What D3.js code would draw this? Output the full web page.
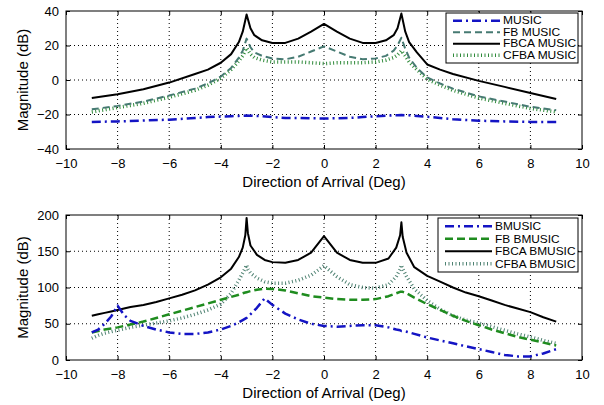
<!DOCTYPE html>
<html><head><meta charset="utf-8">
<script src="https://cdn.jsdelivr.net/npm/d3@7"></script>
<style>
html,body{margin:0;padding:0;background:#fff;}
svg{display:block;font-family:"Liberation Sans",Arial,sans-serif;}
</style></head>
<body><svg id="chart" width="604" height="405"></svg>
<script>
// ---------- DATA ----------
const xTicks = [-10,-8,-6,-4,-2,0,2,4,6,8,10];
const yTicksTop = [-40,-20,0,20,40];
const yTicksBottom = [0,50,100,150,200];
const xLabel = "Direction of Arrival (Deg)";
const yLabel = "Magnitude (dB)";

// Top panel
const xsTop = [-9,-8,-7,-6,-5,-4.5,-4,-3.6,-3.3,-3.15,-3,-2.85,-2.7,-2.4,-2,-1.5,-1,-0.5,0,0.5,1,1.5,2,2.4,2.7,2.85,3,3.15,3.3,3.6,4,4.5,5,6,7,8,9];
const musicTop = [-24.3,-24,-23.5,-23,-22,-21.5,-21.2,-21,-20.8,-20.7,-20.6,-20.7,-20.8,-21,-21.5,-22,-22,-22.2,-22.3,-22.2,-22,-21.5,-21,-20.7,-20.5,-20.4,-20.3,-20.4,-20.5,-20.8,-21.3,-22,-22.8,-23.6,-24,-24.3,-24.3];
const fbMusicTop = [-17,-15,-12.5,-9,-5,-2,2,7,13,17,24,19,16,14,12.5,12,13.5,16.5,19.5,16.5,13.5,12,12.5,14,17,20,24.5,18,13,7,1.5,-2,-5,-9.5,-12.5,-15.5,-17.5];
const fbcaMusicTop = [-10.5,-8.3,-5.4,-1.5,3.5,6,10,15,22,28,38,30,26,23,21.5,21.5,24,28,32.5,28,24,21.5,21.5,23,26,30,38.5,28,22,16,9,6,3.5,-0.5,-4,-7.5,-11];
const cfbaMusicTop = [-18.5,-16,-13.5,-10,-6,-3,1,6,11,14,18.5,15,13,11.5,10.5,10.5,10.5,10,9.5,10,10,10,10.5,11.5,13,14.5,17,14,10.5,6,0.5,-3,-6,-10.5,-13.5,-16.5,-18.5];

// Bottom panel
const xsBottom = [-9,-8.75,-8.5,-8.25,-8,-7.75,-7.5,-7,-6.5,-6,-5.5,-5,-4.5,-4,-3.6,-3.3,-3.15,-3.05,-3,-2.95,-2.85,-2.6,-2.3,-2,-1.5,-1,-0.5,0,0.5,1,1.5,2,2.5,2.8,2.95,3,3.05,3.2,3.5,4,4.5,5,5.5,6,6.5,7,7.5,8,8.5,9];
const bmusic = [38,42,50,60,75,62,54,47,42,38,36,36,38,42,47,52,55,57,58,60,63,72,85,76,64,56,50,47,46,47,48,48,45,42,41,40,40,39,36,31,27,23,19,15,11,7,5,5,9,15];
const fbBmusic = [38,40,42,43.5,45,47,49,53,58,63,68,73,78,83,87,90,92,93,93.5,94,95,97,98.5,98,96,92,88,86,84,83,83,84,88,92,94,94,94,92,86,77,69,61,54,48,42,37,32,28,24,20];
const fbcaBmusic = [61,63,65,67,69,71,73,76,80,85,90,96,104,114,126,142,155,172,196,175,158,145,138,135,134,138,148,171,148,138,134,134,140,155,172,190,170,148,128,116,108,100,93,88,82,76,71,66,59,53];
const cfbaBmusic = [30,34,37,39,41,43,45,48,51,54,58,63,69,77,92,110,120,127,131,125,120,113,108,106,106,110,117,130,115,104,100,99,104,115,125,131,126,115,98,82,70,61,55,51,46,41,36,32,27,23];

const namesTop = ["MUSIC","FB MUSIC","FBCA MUSIC","CFBA MUSIC"];
const namesBottom = ["BMUSIC","FB BMUSIC","FBCA BMUSIC","CFBA BMUSIC"];

// ---------- STYLES ----------
const stDashDot = {color:"#1414c4", width:2.5, dash:"9,4,2,4"};
const stBlack   = {color:"#000000", width:2, dash:null};

const panels = [
  {x0:66, x1:582, y0:11, y1:149, dom:[-40,40], yTicks:yTicksTop, xs:xsTop,
   series:[musicTop, fbMusicTop, fbcaMusicTop, cfbaMusicTop], names:namesTop,
   styles:[stDashDot, {color:"#467a72", width:2, dash:"7,4"}, stBlack, {color:"#2f8a3a", width:3.5, dash:"1,2.5"}],
   legend:{x:446, y:13, w:132, h:50}, fs:10, sx:1.2},
  {x0:66, x1:582, y0:215, y1:360, dom:[0,200], yTicks:yTicksBottom, xs:xsBottom,
   series:[bmusic, fbBmusic, fbcaBmusic, cfbaBmusic], names:namesBottom,
   styles:[stDashDot, {color:"#1f8c1f", width:2.5, dash:"8,4"}, stBlack, {color:"#4f8272", width:3.5, dash:"1,2.5"}],
   legend:{x:438, y:218, w:140, h:54}, fs:10.8, sx:1.1}
];

const svg = d3.select("#chart");

panels.forEach(p => {
  const x = d3.scaleLinear().domain([-10,10]).range([p.x0,p.x1]);
  const y = d3.scaleLinear().domain(p.dom).range([p.y1,p.y0]);
  const g = svg.append("g");

  // grid
  g.append("g").selectAll("line").data(xTicks.slice(1,-1)).join("line")
    .attr("x1",d=>x(d)).attr("x2",d=>x(d)).attr("y1",p.y0).attr("y2",p.y1)
    .attr("stroke","#000").attr("stroke-width",1).attr("stroke-dasharray","1,3");
  g.append("g").selectAll("line").data(p.yTicks.slice(1,-1)).join("line")
    .attr("y1",d=>y(d)).attr("y2",d=>y(d)).attr("x1",p.x0).attr("x2",p.x1)
    .attr("stroke","#000").attr("stroke-width",1).attr("stroke-dasharray","1,3");

  // axes (ticks inward)
  const xb = g.append("g").attr("transform",`translate(0,${p.y1})`)
    .call(d3.axisBottom(x).tickValues(xTicks).tickSizeInner(-4).tickSizeOuter(0).tickPadding(10).tickFormat(d3.format("d")));
  const xt = g.append("g").attr("transform",`translate(0,${p.y0})`)
    .call(d3.axisTop(x).tickValues(xTicks).tickSizeInner(-4).tickSizeOuter(0).tickFormat(""));
  const yl = g.append("g").attr("transform",`translate(${p.x0},0)`)
    .call(d3.axisLeft(y).tickValues(p.yTicks).tickSizeInner(-4).tickSizeOuter(0).tickPadding(7).tickFormat(d3.format("d")));
  const yr = g.append("g").attr("transform",`translate(${p.x1},0)`)
    .call(d3.axisRight(y).tickValues(p.yTicks).tickSizeInner(-4).tickSizeOuter(0).tickFormat(""));
  [xb,xt,yl,yr].forEach(a=>{
    a.select(".domain").remove();
    a.selectAll("text").attr("font-size",13).attr("fill","#000").attr("font-family","'Liberation Sans',Arial,sans-serif");
    a.selectAll(".tick line").attr("stroke","#000");
  });

  // lines
  const clipId = "clip"+p.y0;
  svg.append("clipPath").attr("id",clipId).append("rect")
    .attr("x",p.x0).attr("y",p.y0-2).attr("width",p.x1-p.x0).attr("height",p.y1-p.y0+2);
  const line = d3.line().x((d,i)=>x(p.xs[i])).y(d=>y(d));
  const order = [3,1,2,0];
  order.forEach(k=>{
    const st = p.styles[k];
    g.append("path").datum(p.series[k]).attr("d",line)
      .attr("fill","none").attr("stroke",st.color).attr("stroke-width",st.width)
      .attr("stroke-dasharray",st.dash).attr("stroke-linejoin","round")
      .attr("clip-path",`url(#${clipId})`);
  });

  // frame
  g.append("rect").attr("x",p.x0).attr("y",p.y0).attr("width",p.x1-p.x0).attr("height",p.y1-p.y0)
    .attr("fill","none").attr("stroke","#000").attr("stroke-width",1);

  // labels
  g.append("text").attr("x",(p.x0+p.x1)/2).attr("y",p.y1+38).attr("text-anchor","middle")
    .attr("font-size",15).text(xLabel);
  g.append("text").attr("transform",`translate(28,${(p.y0+p.y1)/2}) rotate(-90)`)
    .attr("text-anchor","middle").attr("font-size",15).text(yLabel);

  // legend
  const L = p.legend;
  const lg = g.append("g");
  lg.append("rect").attr("x",L.x).attr("y",L.y).attr("width",L.w).attr("height",L.h)
    .attr("fill","#fff").attr("stroke","#000").attr("stroke-width",1);
  const rowH = (L.h-4)/4;
  p.names.forEach((nm,k)=>{
    const cy = L.y + 2 + rowH*(k+0.5);
    const st = p.styles[k];
    lg.append("line").attr("x1",L.x+7).attr("x2",L.x+54).attr("y1",cy).attr("y2",cy)
      .attr("stroke",st.color).attr("stroke-width",st.width).attr("stroke-dasharray",st.dash);
    lg.append("text").attr("transform",`translate(${L.x+57},${cy}) scale(${p.sx},1)`)
      .attr("dy","0.36em").attr("font-size",p.fs).text(nm);
  });
});
</script></body></html>
